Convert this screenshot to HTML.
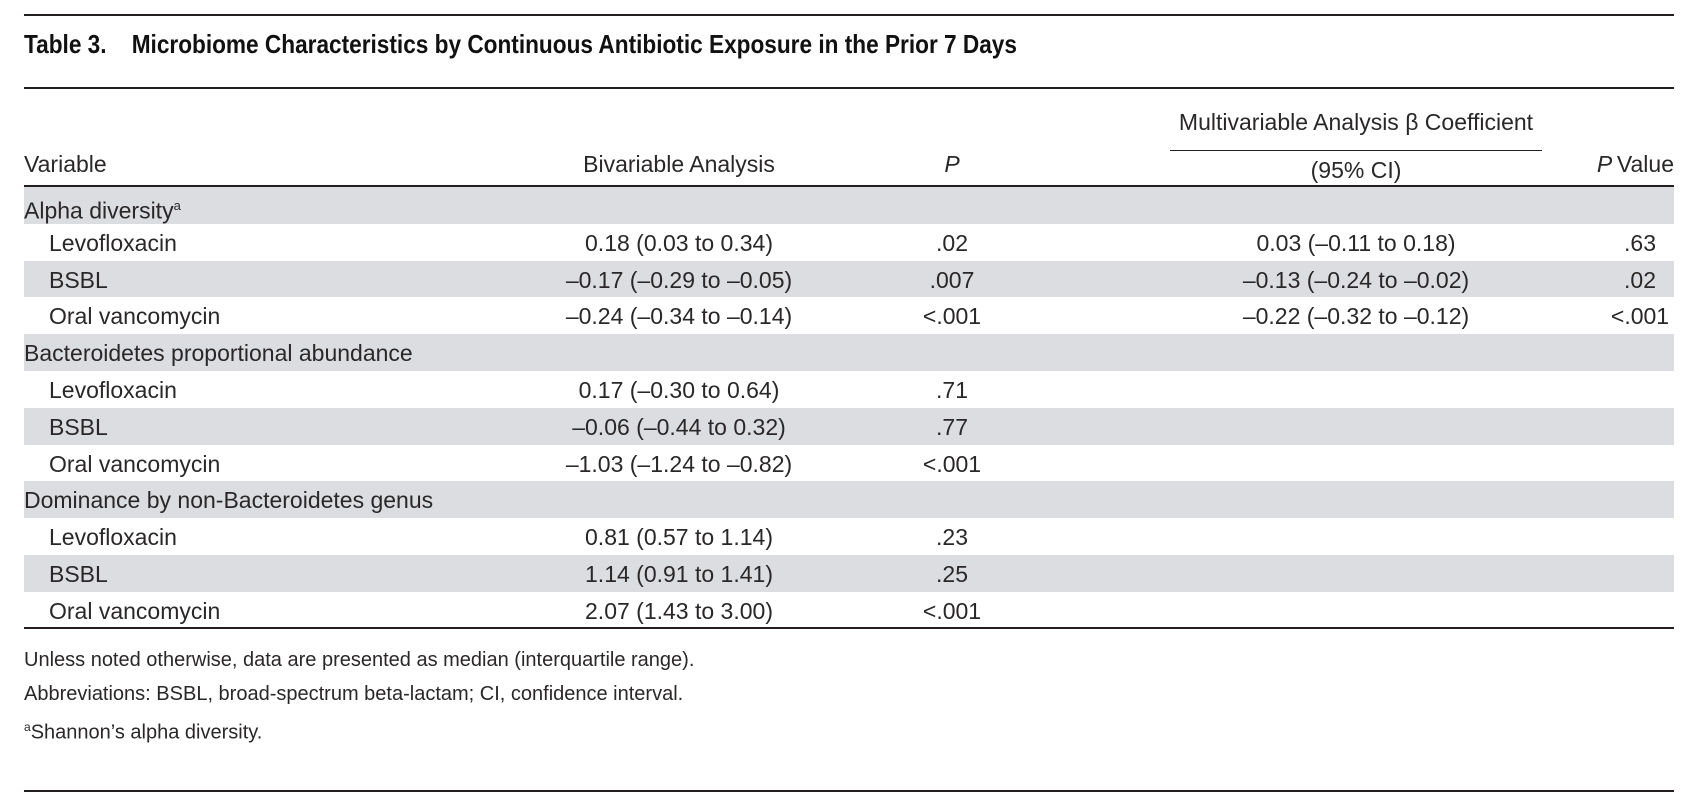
<!DOCTYPE html>
<html><head><meta charset="utf-8"><style>
body{margin:0;width:1696px;height:804px;background:#fff;position:relative;overflow:hidden;font-family:"Liberation Sans",Arial,sans-serif;color:#2a2728}
.t{position:absolute;white-space:nowrap;font-size:23px;line-height:26px}
.c{transform:translateX(-50%)}
.r{transform:translateX(-100%)}
.line{position:absolute;background:#231f20}
.g{position:absolute;left:24px;width:1650px;background:#dcdde0}
</style></head><body>
<div class="line" style="left:24px;width:1650px;top:14px;height:2px"></div>
<div class="t" style="left:24px;top:29px;font-weight:bold;font-size:26px;line-height:30px;transform:scaleX(0.87);transform-origin:0 0;color:#111">Table 3.&nbsp;&nbsp;&nbsp; Microbiome Characteristics by Continuous Antibiotic Exposure in the Prior 7 Days</div>
<div class="line" style="left:24px;width:1650px;top:87px;height:2px"></div>

<div class="t c" style="left:1356px;top:109px">Multivariable Analysis β Coefficient</div>
<div class="line" style="left:1170px;width:372px;top:150px;height:1px"></div>
<div class="t" style="left:24px;top:151px">Variable</div>
<div class="t c" style="left:679px;top:151px">Bivariable Analysis</div>
<div class="t c" style="left:952px;top:151px;font-style:italic">P</div>
<div class="t c" style="left:1356px;top:157px">(95% CI)</div>
<div class="t r" style="left:1674px;top:151px"><i>P</i>&thinsp;Value</div>
<div class="line" style="left:24px;width:1650px;top:185px;height:2px"></div>

<div id="rows"></div>
<div class="line" style="left:24px;width:1650px;top:627px;height:2px"></div>

<div class="t" style="left:24px;top:647px;font-size:20px">Unless noted otherwise, data are presented as median (interquartile range).</div>
<div class="t" style="left:24px;top:681px;font-size:20px">Abbreviations: BSBL, broad-spectrum beta-lactam; CI, confidence interval.</div>
<div class="t" style="left:24px;top:714px;font-size:20px"><sup style="font-size:12px">a</sup>Shannon’s alpha diversity.</div>
<div class="line" style="left:24px;width:1650px;top:790px;height:2px"></div>

<script>
const labels=["Alpha diversity","Levofloxacin","BSBL","Oral vancomycin","Bacteroidetes proportional abundance","Levofloxacin","BSBL","Oral vancomycin","Dominance by non-Bacteroidetes genus","Levofloxacin","BSBL","Oral vancomycin"];
const bivar=["","0.18 (0.03 to 0.34)","–0.17 (–0.29 to –0.05)","–0.24 (–0.34 to –0.14)","","0.17 (–0.30 to 0.64)","–0.06 (–0.44 to 0.32)","–1.03 (–1.24 to –0.82)","","0.81 (0.57 to 1.14)","1.14 (0.91 to 1.41)","2.07 (1.43 to 3.00)"];
const pvals=["",".02",".007","<.001","",".71",".77","<.001","",".23",".25","<.001"];
const multi=["","0.03 (–0.11 to 0.18)","–0.13 (–0.24 to –0.02)","–0.22 (–0.32 to –0.12)","","","","","","","",""];
const mp=["",".63",".02","<.001","","","","","","","",""];
const root=document.getElementById('rows');
const top0=187,rh=36.8;
labels.forEach((lab,i)=>{
  const y=top0+i*rh;
  const isGroup=(i%4===0);
  if(i%2===0){
    const g=document.createElement('div');g.className='g';
    
    
    g.style.top=y+'px';g.style.height=rh+'px';root.appendChild(g);
  }
  const ty=y+6;
  const add=(txt,left,cls,name)=>{
    if(!txt)return;
    const d=document.createElement('div');d.className='t '+cls;
    
    
    d.style.left=left+'px';d.style.top=ty+'px';
    d.innerHTML=txt;root.appendChild(d);
  };
  add(isGroup&&i===0?lab+'<sup style="font-size:13px">a</sup>':lab,isGroup?24:49,'',isGroup?'group-label':'variable-label');
  add(bivar[i],679,'c','bivariable-value');
  add(pvals[i].replace('<','&lt;'),952,'c','p-value');
  add(multi[i],1356,'c','multivariable-value');
  add(mp[i].replace('<','&lt;'),1640,'c','multivariable-p-value');
});
</script>
</body></html>
